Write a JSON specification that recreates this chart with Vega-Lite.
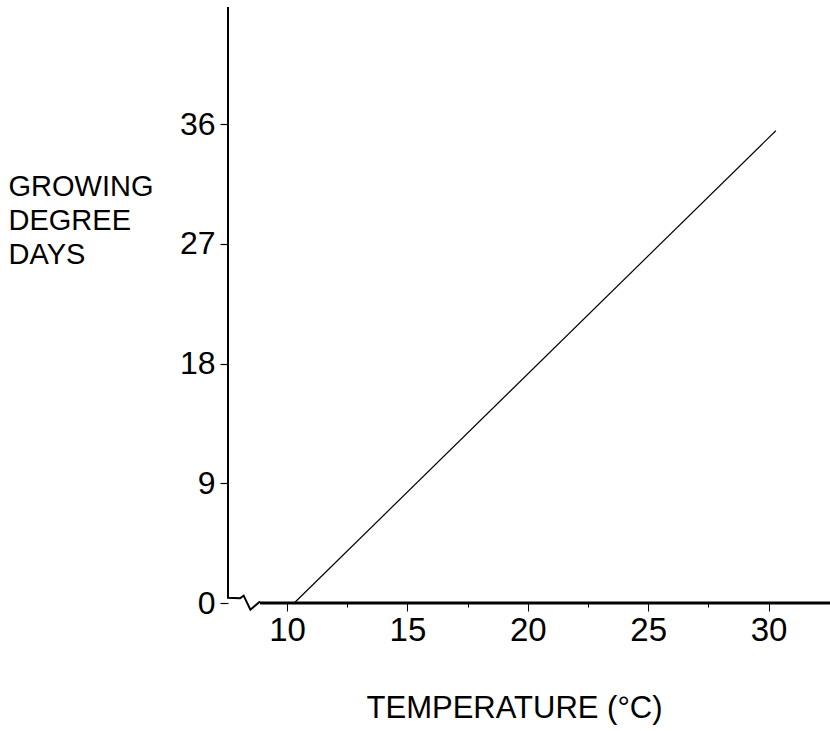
{
  "$schema": "https://vega.github.io/schema/vega-lite/v6.json",
  "width": 602,
  "height": 596,
  "autosize": {"type": "none"},
  "padding": {"left": 228, "top": 7, "right": 0, "bottom": 128},
  "background": "white",
  "config": {
    "view": {"stroke": null},
    "font": "Liberation Sans",
    "axis": {"grid": false, "labelColor": "black", "tickColor": "black", "domainColor": "black", "titleColor": "black", "labelFont": "Liberation Sans", "titleFont": "Liberation Sans", "titleFontWeight": "normal"}
  },
  "datasets": {
    "gdd": [
      {"temperature": 10.3, "gdd": 0},
      {"temperature": 30.3, "gdd": 35.5}
    ],
    "frame": [
      {"k": 1, "temperature": 7.55, "gdd": 44.8},
      {"k": 2, "temperature": 7.55, "gdd": 0.4},
      {"k": 3, "temperature": 8.05, "gdd": 0.35},
      {"k": 4, "temperature": 8.2, "gdd": 0.55},
      {"k": 5, "temperature": 8.48, "gdd": -0.5},
      {"k": 6, "temperature": 8.88, "gdd": 0.12}
    ],
    "baseline": [
      {"from": 8.88, "to": 32.55, "gdd": 0}
    ]
  },
  "resolve": {"axis": {"x": "independent"}},
  "layer": [
    {
      "data": {"name": "gdd"},
      "mark": {"type": "line", "color": "black", "strokeWidth": 1.2},
      "encoding": {
        "x": {
          "field": "temperature", "type": "quantitative",
          "scale": {"domain": [7.55, 32.55], "nice": false, "zero": false},
          "axis": {
            "orient": "bottom",
            "values": [10, 15, 20, 25, 30],
            "domain": false,
            "tickSize": 8, "tickWidth": 1,
            "labelFontSize": 33, "labelPadding": 3,
            "title": "TEMPERATURE (°C)",
            "titleFontSize": 31,
            "titleBaseline": "alphabetic",
            "titleY": 114,
            "titleX": 286
          }
        },
        "y": {
          "field": "gdd", "type": "quantitative",
          "scale": {"domain": [0, 44.8], "nice": false, "zero": false},
          "axis": {
            "values": [0, 9, 18, 27, 36],
            "domain": false,
            "tickSize": 8, "tickWidth": 1.2,
            "labelFontSize": 32, "labelPadding": 5,
            "title": ["GROWING", "DEGREE", "DAYS"],
            "titleFontSize": 29,
            "titleAngle": 0,
            "titleAlign": "left",
            "titleBaseline": "alphabetic",
            "titleLineHeight": 34,
            "titleX": -220,
            "titleY": 188
          }
        }
      }
    },
    {
      "data": {"name": "frame"},
      "mark": {"type": "line", "color": "black", "strokeWidth": 2},
      "encoding": {
        "x": {"field": "temperature", "type": "quantitative", "axis": null},
        "y": {"field": "gdd", "type": "quantitative"},
        "order": {"field": "k"}
      }
    },
    {
      "data": {"name": "baseline"},
      "mark": {"type": "rule", "color": "black", "strokeWidth": 3},
      "encoding": {
        "x": {"field": "from", "type": "quantitative",
          "axis": {"orient": "bottom", "values": [12.5, 17.5, 22.5, 27.5], "domain": false, "labels": false, "tickSize": 4, "tickWidth": 1, "title": null}},
        "x2": {"field": "to"},
        "y": {"field": "gdd", "type": "quantitative"}
      }
    }
  ]
}
